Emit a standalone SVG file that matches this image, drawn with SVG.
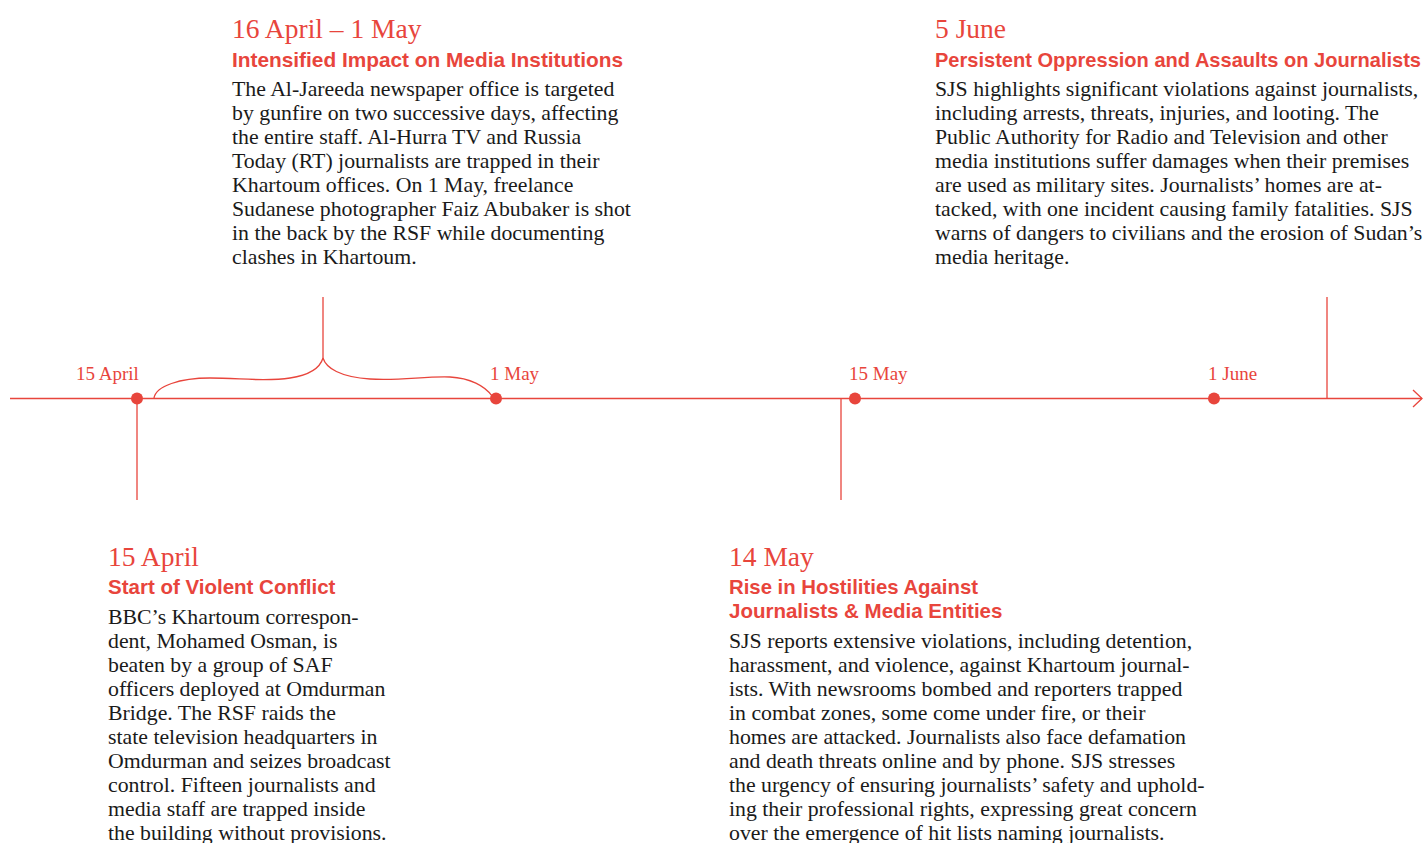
<svg xmlns="http://www.w3.org/2000/svg" width="1425" height="843" viewBox="0 0 1425 843">
<style>
.bg{fill:#ffffff}
.ln{stroke:#E8453C;stroke-width:1.3;fill:none}
.dot{fill:#E8453C}
.tick{font-family:"Liberation Serif","Times New Roman",serif;font-size:19px;fill:#E8453C}
.date{font-family:"Liberation Serif","Times New Roman",serif;font-size:27.5px;fill:#E8453C}
.head{font-family:"Liberation Sans",Arial,sans-serif;font-weight:bold;font-size:20.5px;fill:#E8453C}
.body{font-family:"Liberation Serif","Times New Roman",serif;font-size:21.8px;fill:#1a1a1a}
</style>
<rect class="bg" x="0" y="0" width="1425" height="843"/>
<g id="connectors">
<path class="ln" d="M10,398.5 H1422"/>
<path class="ln" d="M1413,390 L1422,398.5 L1413,407"/>
<path class="ln" d="M137,398.5 V500"/>
<path class="ln" d="M841,398.5 V500"/>
<path class="ln" d="M1327,297 V398.5"/>
<path class="ln" d="M323,297 V358"/>
<path class="ln" d="M154,398 C156,386 180,378 210,378 C240,378 265,382 290,378 C310,375 320,368 323,358"/>
<path class="ln" d="M323,358 C326,368 340,377 370,379 C400,381 425,376 450,377 C470,378 485,386 492,396"/>
</g>
<g id="axis-ticks">
<circle class="dot" cx="137" cy="398.5" r="6"/>
<circle class="dot" cx="496" cy="398.5" r="6"/>
<circle class="dot" cx="855" cy="398.5" r="6"/>
<circle class="dot" cx="1214" cy="398.5" r="6"/>
<text class="tick" x="76" y="380">15 April</text>
<text class="tick" x="490" y="380">1 May</text>
<text class="tick" x="849" y="380">15 May</text>
<text class="tick" x="1208" y="380">1 June</text>
</g>
<g id="event-16april">
<text class="date" x="232" y="38">16 April – 1 May</text>
<text class="head" x="232" y="67" textLength="391" lengthAdjust="spacingAndGlyphs">Intensified Impact on Media Institutions</text>
<text class="body" x="232" y="96">The Al-Jareeda newspaper office is targeted</text>
<text class="body" x="232" y="120">by gunfire on two successive days, affecting</text>
<text class="body" x="232" y="144">the entire staff. Al-Hurra TV and Russia</text>
<text class="body" x="232" y="168">Today (RT) journalists are trapped in their</text>
<text class="body" x="232" y="192">Khartoum offices. On 1 May, freelance</text>
<text class="body" x="232" y="216">Sudanese photographer Faiz Abubaker is shot</text>
<text class="body" x="232" y="240">in the back by the RSF while documenting</text>
<text class="body" x="232" y="264">clashes in Khartoum.</text>
</g>
<g id="event-5june">
<text class="date" x="935" y="38">5 June</text>
<text class="head" x="935" y="67" textLength="486" lengthAdjust="spacingAndGlyphs">Persistent Oppression and Assaults on Journalists</text>
<text class="body" x="935" y="96">SJS highlights significant violations against journalists,</text>
<text class="body" x="935" y="120">including arrests, threats, injuries, and looting. The</text>
<text class="body" x="935" y="144">Public Authority for Radio and Television and other</text>
<text class="body" x="935" y="168">media institutions suffer damages when their premises</text>
<text class="body" x="935" y="192">are used as military sites. Journalists’ homes are at-</text>
<text class="body" x="935" y="216">tacked, with one incident causing family fatalities. SJS</text>
<text class="body" x="935" y="240">warns of dangers to civilians and the erosion of Sudan’s</text>
<text class="body" x="935" y="264">media heritage.</text>
</g>
<g id="event-15april">
<text class="date" x="108" y="566">15 April</text>
<text class="head" x="108" y="594">Start of Violent Conflict</text>
<text class="body" x="108" y="624">BBC’s Khartoum correspon-</text>
<text class="body" x="108" y="648">dent, Mohamed Osman, is</text>
<text class="body" x="108" y="672">beaten by a group of SAF</text>
<text class="body" x="108" y="696">officers deployed at Omdurman</text>
<text class="body" x="108" y="720">Bridge. The RSF raids the</text>
<text class="body" x="108" y="744">state television headquarters in</text>
<text class="body" x="108" y="768">Omdurman and seizes broadcast</text>
<text class="body" x="108" y="792">control. Fifteen journalists and</text>
<text class="body" x="108" y="816">media staff are trapped inside</text>
<text class="body" x="108" y="840">the building without provisions.</text>
</g>
<g id="event-14may">
<text class="date" x="729" y="566">14 May</text>
<text class="head" x="729" y="594" textLength="249" lengthAdjust="spacingAndGlyphs">Rise in Hostilities Against</text>
<text class="head" x="729" y="618">Journalists &amp; Media Entities</text>
<text class="body" x="729" y="648">SJS reports extensive violations, including detention,</text>
<text class="body" x="729" y="672">harassment, and violence, against Khartoum journal-</text>
<text class="body" x="729" y="696">ists. With newsrooms bombed and reporters trapped</text>
<text class="body" x="729" y="720">in combat zones, some come under fire, or their</text>
<text class="body" x="729" y="744">homes are attacked. Journalists also face defamation</text>
<text class="body" x="729" y="768">and death threats online and by phone. SJS stresses</text>
<text class="body" x="729" y="792">the urgency of ensuring journalists’ safety and uphold-</text>
<text class="body" x="729" y="816">ing their professional rights, expressing great concern</text>
<text class="body" x="729" y="840">over the emergence of hit lists naming journalists.</text>
</g>
</svg>
